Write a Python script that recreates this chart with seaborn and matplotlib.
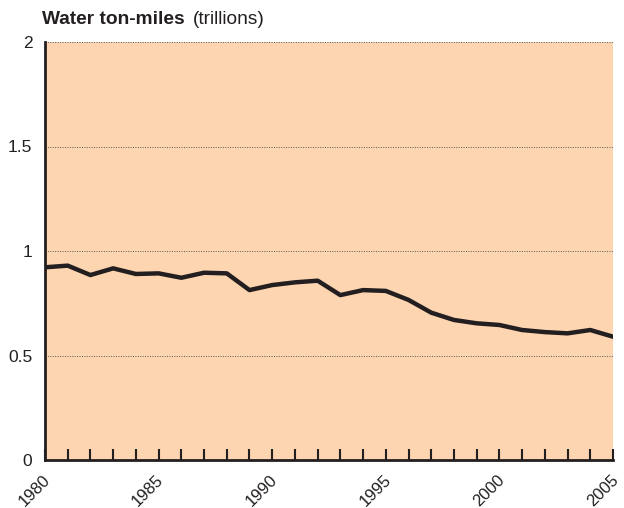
import matplotlib
matplotlib.use('Agg')
import matplotlib.pyplot as plt
import matplotlib.transforms as mtransforms
import seaborn as sns
import pandas as pd
from matplotlib.ticker import MultipleLocator

years = list(range(1980, 2006))
ton_miles = [0.922, 0.930, 0.885, 0.917, 0.890, 0.893, 0.872, 0.896, 0.893,
             0.813, 0.837, 0.850, 0.858, 0.789, 0.813, 0.809, 0.766, 0.705,
             0.670, 0.654, 0.646, 0.622, 0.612, 0.606, 0.622, 0.590]
y_ticks = [0, 0.5, 1, 1.5, 2]
y_labels = ['0', '0.5', '1', '1.5', '2']
x_ticks = [1980, 1985, 1990, 1995, 2000, 2005]

sns.set_style('white')
plt.rcParams['font.family'] = ['Liberation Sans', 'DejaVu Sans']

df = pd.DataFrame({'year': years, 'value': ton_miles})

fig = plt.figure(figsize=(6.24, 5.08), dpi=100)
ax = fig.add_axes([45 / 624, 1 - 460 / 508, 568 / 624, 418 / 508])
ax.set_facecolor('#fdd5b1')

sns.lineplot(data=df, x='year', y='value', ax=ax, color='#231f20',
             linewidth=3.2, zorder=3)

ax.set_xlim(1980, 2005)
ax.set_ylim(0, 2)
ax.set_yticks(y_ticks)
ax.set_yticklabels(y_labels)
ax.set_xticks(x_ticks)
ax.xaxis.set_minor_locator(MultipleLocator(1))

ax.grid(axis='y', linestyle=(0, (1, 1.5)), color='#555555', linewidth=0.7)
ax.set_axisbelow(True)
ax.set_xlabel('')
ax.set_ylabel('')

for side in ['top', 'right']:
    ax.spines[side].set_visible(False)
for side in ['left', 'bottom']:
    ax.spines[side].set_color('#231f20')
    ax.spines[side].set_linewidth(2)

ax.tick_params(axis='x', which='both', direction='in', length=8, width=1.5,
               color='#231f20', labelsize=12, pad=9, bottom=True,
               labelcolor='#231f20')
ax.tick_params(axis='y', which='both', length=0, labelsize=12.5, pad=9,
               labelcolor='#231f20')

ax.set_xticklabels([str(x) for x in x_ticks], rotation=45, ha='right')
# shift the rotated year labels a bit to the right, like the original
shift = mtransforms.ScaledTranslation(8 / 100, 0, fig.dpi_scale_trans)
for tick in ax.xaxis.get_major_ticks():
    tick.label1.set_transform(tick.label1.get_transform() + shift)

fig.text(42 / 624, 1 - 20 / 508, 'Water ton-miles', fontsize=13.8,
         fontweight='bold', color='#231f20', va='center')
fig.text(193 / 624, 1 - 20 / 508, '(trillions)', fontsize=13.8,
         color='#231f20', va='center')

fig.savefig('out.png', dpi=100)
